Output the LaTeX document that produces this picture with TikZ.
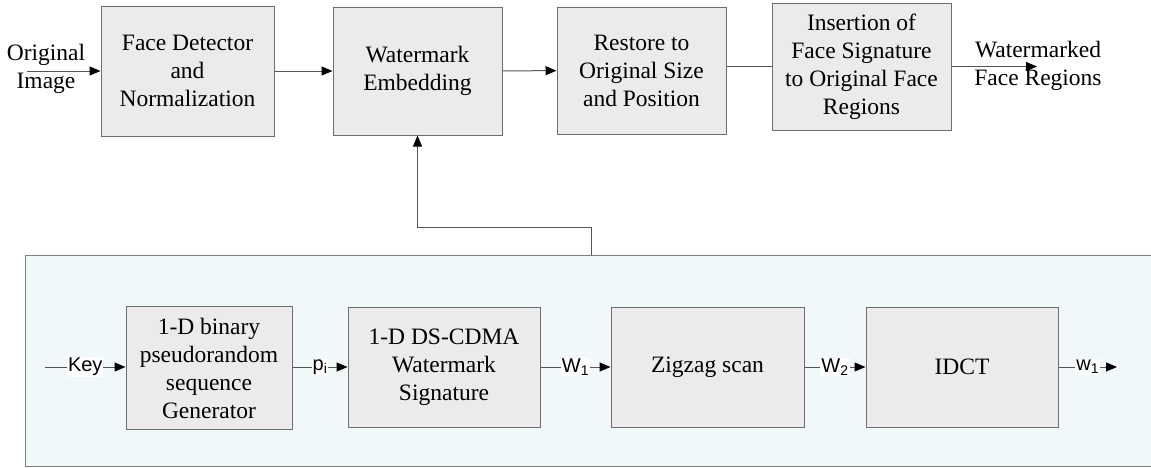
\documentclass[tikz,border=0pt]{standalone}
\usepackage{fontspec}
\setmainfont{Liberation Serif}
\newfontfamily\lsans{Liberation Sans}
\usetikzlibrary{arrows.meta}
\definecolor{boxfill}{HTML}{EBEBEB}
\definecolor{boxline}{HTML}{6E6E6E}
\definecolor{panelfill}{HTML}{F1F8FA}
\definecolor{panelline}{HTML}{808080}
\definecolor{lineclr}{HTML}{555555}
\begin{document}
\begin{tikzpicture}[x=1pt,y=-1pt,
  box/.style={draw=boxline, fill=boxfill, line width=1pt, align=center,
    font=\fontsize{23.5}{28}\selectfont, inner sep=0pt},
  txt/.style={align=center, font=\fontsize{23.5}{28}\selectfont, inner sep=0pt},
  lbl/.style={fill=white, inner sep=1pt, font=\lsans\fontsize{20}{22}\selectfont},
  conn/.style={draw=lineclr, line width=1pt},
  arr/.style={conn, -{Triangle[length=11pt,width=9pt,color=black]}}]
\useasboundingbox (0,0) rectangle (1151,467);
% panel
\node[draw=panelline, fill=panelfill, line width=1pt, minimum width=1128pt,
  minimum height=211pt, inner sep=0pt] (panel) at (589,360.5) {};
% top row
\node[box, minimum width=173pt, minimum height=130pt] (box1) at (187.5,71)
  {Face Detector\\and\\Normalization};
\node[box, minimum width=169pt, minimum height=128pt] (box2) at (417.5,71)
  {Watermark\\Embedding};
\node[box, minimum width=169pt, minimum height=127pt] (box3) at (641.5,70.5)
  {Restore to\\Original Size\\and Position};
\node[box, minimum width=179pt, minimum height=127pt] (box4) at (861.5,66.5)
  {Insertion of\\Face Signature\\to Original Face\\Regions};
\node[txt] (orig) at (46,69) {Original\\Image};
\node[txt] (wfr) at (1038,66) {Watermarked\\Face Regions};
\coordinate (oin) at (27,71);
\coordinate (wout) at (1037,66.5);
\draw[arr] (oin) -- (box1);
\draw[arr] (box1) -- (box2);
\draw[arr] (box2) -- (box3);
\draw[conn] (box4.west -| box3.east) -- (box4.west);
\draw[arr] (box4) -- (wout);
% bottom row
\node[box, minimum width=166pt, minimum height=123pt] (b1) at (209,368)
  {1-D binary\\pseudorandom\\sequence\\Generator};
\node[box, minimum width=192pt, minimum height=120pt] (b2) at (444,367)
  {1-D DS-CDMA\\Watermark\\Signature};
\node[box, minimum width=193pt, minimum height=120pt] (b3) at (707.5,367)
  {Zigzag scan};
\node[box, minimum width=192pt, minimum height=120pt] (b4) at (962,367)
  {IDCT};
\coordinate (keyin) at (45,367);
\coordinate (w1out) at (1117,367);
\draw[arr] (keyin) -- node[lbl] {Key} (keyin -| b1.west);
\draw[arr] (b1.east |- b2.east) -- node[lbl] {p\textsubscript{i}} (b2);
\draw[arr] (b2) -- node[lbl] {W\textsubscript{1}} (b3);
\draw[arr] (b3) -- node[lbl] {W\textsubscript{2}} (b4);
\draw[arr] (b4) -- node[lbl] {w\textsubscript{1}} (w1out);
% feedback connector
\coordinate (tap) at (591,255);
\coordinate (bend) at (591,227);
\draw[arr] (tap) -- (bend) -| (box2.south);
\end{tikzpicture}
\end{document}
